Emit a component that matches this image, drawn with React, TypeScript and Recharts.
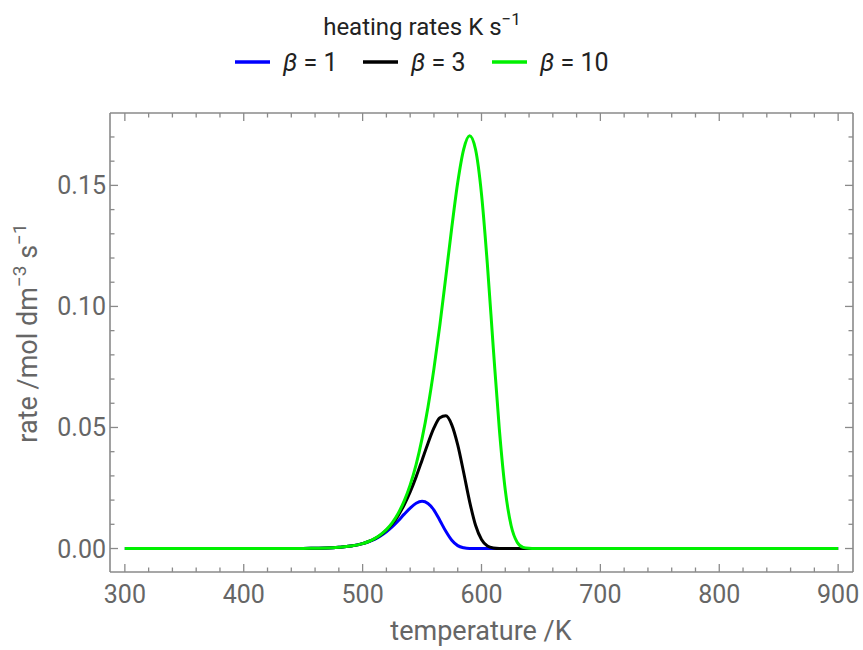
import { LineChart, Line, XAxis, YAxis } from 'recharts';

// temperatures (K) at which the curves were read
const TEMPS = [
  300, 350, 400, 440, 450, 460, 470, 480, 490,
  500, 505, 510, 515, 520, 525, 530, 535, 540, 545, 550,
  555, 560, 565, 570, 575, 580, 585, 590, 595, 600,
  605, 610, 615, 620, 625, 630, 635, 640, 645, 650,
  700, 750, 800, 850, 900,
];

// rate /mol dm^-3 s^-1 for each heating rate
const BETA_1 = [
  0, 0, 0, 0, 0, 0.0001, 0.0002, 0.0005, 0.001,
  0.002, 0.0028, 0.0038, 0.0052, 0.0069, 0.009, 0.0115, 0.0142, 0.0167, 0.0187, 0.0195,
  0.0186, 0.0159, 0.0116, 0.0071, 0.0034, 0.0012, 0.0003, 0, 0, 0,
  0, 0, 0, 0, 0, 0, 0, 0, 0, 0,
  0, 0, 0, 0, 0,
];
const BETA_3 = [
  0, 0, 0, 0, 0, 0.0001, 0.0002, 0.0005, 0.001,
  0.002, 0.0029, 0.004, 0.0055, 0.0076, 0.0102, 0.0137, 0.0181, 0.0234, 0.0296, 0.0365,
  0.0435, 0.0498, 0.054, 0.0548, 0.0511, 0.0428, 0.0314, 0.0194, 0.0096, 0.0037,
  0.001, 0.0002, 0, 0, 0, 0, 0, 0, 0, 0,
  0, 0, 0, 0, 0,
];
const BETA_10 = [
  0, 0, 0, 0, 0, 0.0001, 0.0002, 0.0005, 0.001,
  0.002, 0.0029, 0.0041, 0.0057, 0.0078, 0.0107, 0.0146, 0.0197, 0.0263, 0.0347, 0.0454,
  0.0585, 0.0743, 0.0924, 0.1123, 0.1326, 0.1512, 0.1649, 0.1705, 0.1648, 0.1464,
  0.117, 0.0823, 0.0493, 0.0241, 0.0093, 0.0026, 0.0005, 0.0001, 0, 0,
  0, 0, 0, 0, 0,
];

const SERIES = [
  { key: 'b1', label: '1', color: '#0000ff', values: BETA_1 },
  { key: 'b3', label: '3', color: '#000000', values: BETA_3 },
  { key: 'b10', label: '10', color: '#00f000', values: BETA_10 },
];

const X_TICKS = Array.from({ length: 31 }, (_, i) => 300 + 20 * i);
const Y_TICKS = Array.from({ length: 18 }, (_, i) => i / 100);
const X_DOMAIN = [287.5, 912.5];
const Y_DOMAIN = [-0.0097, 0.1799];

const FRAME = '#8a8a8a';
const LABEL = '#666666';
const FONT = 'Roboto, sans-serif';

const data = TEMPS.map((T, i) => {
  const row: Record<string, number> = { T };
  SERIES.forEach((s) => (row[s.key] = s.values[i]));
  return row;
});

const isMajorX = (v: number) => v % 100 === 0;
const isMajorY = (v: number) => Math.round(v * 100) % 5 === 0;

function BottomTick({ x, y, payload }: any) {
  const major = isMajorX(payload.value);
  return (
    <g>
      <line x1={x} x2={x} y1={y} y2={y - (major ? 8 : 4.5)} stroke={FRAME} strokeWidth={1.3} />
      {major && (
        <text x={x} y={y + 31} textAnchor="middle" fill={LABEL} fontSize={25} fontFamily={FONT}>
          {payload.value}
        </text>
      )}
    </g>
  );
}

function TopTick({ x, y, payload }: any) {
  const major = isMajorX(payload.value);
  return <line x1={x} x2={x} y1={y} y2={y + (major ? 8 : 4.5)} stroke={FRAME} strokeWidth={1.3} />;
}

function LeftTick({ x, y, payload }: any) {
  const major = isMajorY(payload.value);
  return (
    <g>
      <line x1={x} x2={x + (major ? 8 : 4.5)} y1={y} y2={y} stroke={FRAME} strokeWidth={1.3} />
      {major && (
        <text x={x - 4} y={y + 9} textAnchor="end" fill={LABEL} fontSize={25} fontFamily={FONT}>
          {payload.value.toFixed(2)}
        </text>
      )}
    </g>
  );
}

function RightTick({ x, y, payload }: any) {
  const major = isMajorY(payload.value);
  return <line x1={x} x2={x - (major ? 8 : 4.5)} y1={y} y2={y} stroke={FRAME} strokeWidth={1.3} />;
}

const axisCommon = {
  type: 'number' as const,
  tickSize: 0,
  tickMargin: 0,
  tickLine: false,
  interval: 0 as const,
  allowDataOverflow: true,
  axisLine: { stroke: FRAME, strokeWidth: 1.6 },
};

export default function App() {
  return (
    <div style={{ position: 'absolute', left: 0, top: 0, width: 863, height: 650, background: '#fff' }}>
      <LineChart
        width={863}
        height={650}
        data={data}
        margin={{ top: 112, right: 9, bottom: 77, left: 109 }}
      >
        <XAxis {...axisCommon} dataKey="T" domain={X_DOMAIN} ticks={X_TICKS} height={1} tick={<BottomTick />} />
        <XAxis
          {...axisCommon}
          xAxisId="top"
          orientation="top"
          dataKey="T"
          domain={X_DOMAIN}
          ticks={X_TICKS}
          height={1}
          tick={<TopTick />}
        />
        <YAxis {...axisCommon} domain={Y_DOMAIN} ticks={Y_TICKS} width={1} tick={<LeftTick />} />
        <YAxis
          {...axisCommon}
          yAxisId="right"
          orientation="right"
          domain={Y_DOMAIN}
          ticks={Y_TICKS}
          width={1}
          tick={<RightTick />}
        />
        {SERIES.map((s) => (
          <Line
            key={s.key}
            type="monotone"
            dataKey={s.key}
            stroke={s.color}
            strokeWidth={3}
            dot={false}
            isAnimationActive={false}
          />
        ))}
      </LineChart>

      <svg
        width={863}
        height={650}
        style={{ position: 'absolute', left: 0, top: 0, pointerEvents: 'none' }}
        fontFamily={FONT}
      >
        {/* legend */}
        <text x={422} y={35} textAnchor="middle" fontSize={24} fill="#222">
          heating rates K s
          <tspan fontSize={17} dy={-10}>−1</tspan>
        </text>
        {SERIES.map((s, i) => {
          const x0 = [235, 363, 492][i];
          return (
            <g key={s.key}>
              <line x1={x0} x2={x0 + 35} y1={62} y2={62} stroke={s.color} strokeWidth={3.5} />
              <text x={x0 + 48} y={71} fontSize={25} fill="#222">
                <tspan fontStyle="italic">β</tspan> = {s.label}
              </text>
            </g>
          );
        })}

        {/* axis titles */}
        <text x={481} y={640} textAnchor="middle" fontSize={27} fill={LABEL}>
          temperature /K
        </text>
        <text x={37} y={333} textAnchor="middle" fontSize={27} fill={LABEL} transform="rotate(-90, 37, 333)">
          rate /mol dm
          <tspan fontSize={19} dy={-11}>−3</tspan>
          <tspan dy={11}> s</tspan>
          <tspan fontSize={19} dy={-11}>−1</tspan>
        </text>
      </svg>
    </div>
  );
}
